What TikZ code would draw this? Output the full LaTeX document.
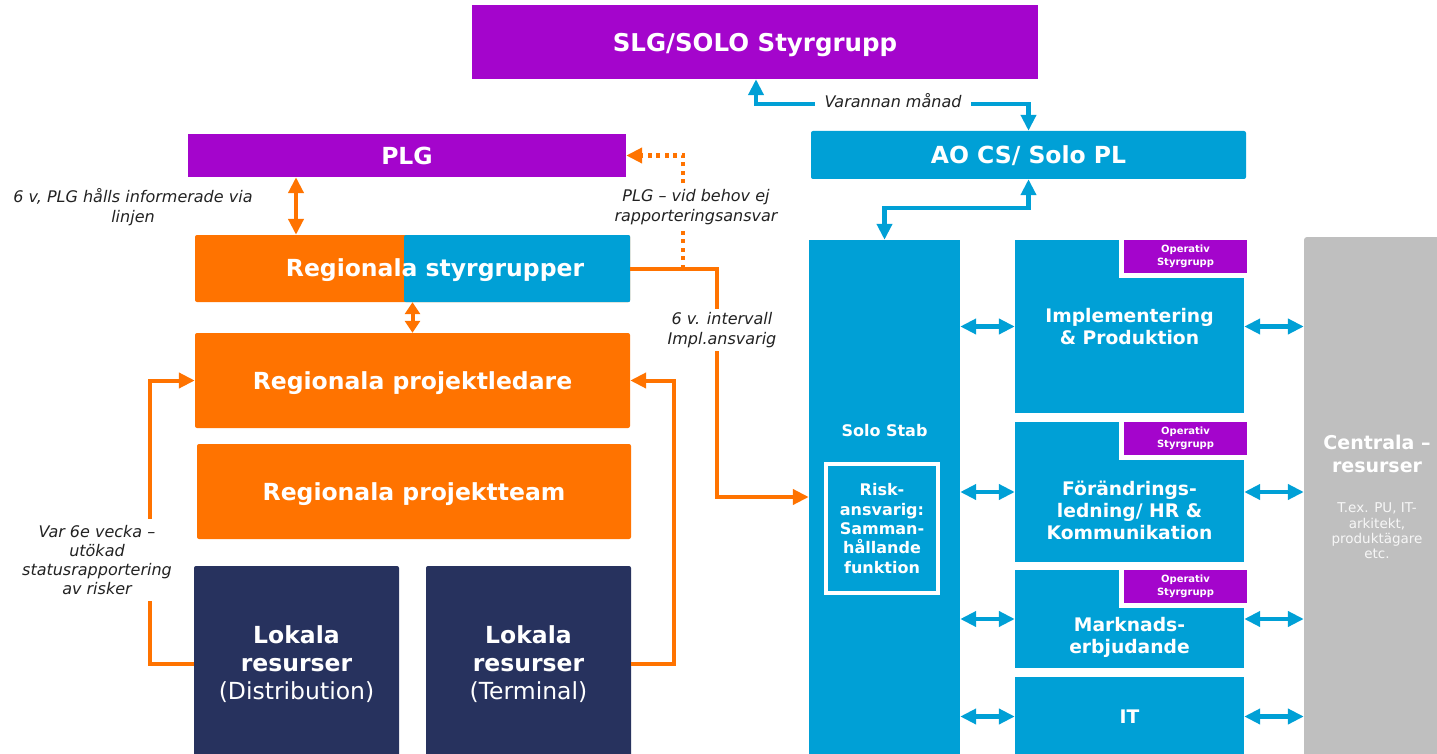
\documentclass[tikz,border=0pt]{standalone}
\usepackage{fontspec}
\setmainfont{DejaVu Sans}
\usetikzlibrary{arrows.meta}
\definecolor{solopurple}{HTML}{A405CC}
\definecolor{soloblue}{HTML}{00A0D6}
\definecolor{soloorange}{HTML}{FF7300}
\definecolor{solonavy}{HTML}{27325E}
\definecolor{sologray}{HTML}{BFBFBF}
\definecolor{notetext}{HTML}{222222}
\tikzset{
  box/.style={inner sep=0pt, text=white, align=center, font=\fontsize{23.5}{28}\selectfont\bfseries},
  onebox/.style={box, text depth=0pt},
  midtext/.style={text=white, align=center, inner sep=0pt, font=\fontsize{18.7}{22}\selectfont\bfseries},
  note/.style={text=notetext, align=center, inner sep=1pt, font=\fontsize{16}{20}\selectfont\itshape},
  opbox/.style={fill=solopurple, text=white, align=center, inner sep=0pt, minimum width=123pt, minimum height=33pt, font=\fontsize{10}{13}\selectfont\bfseries},
  bluedbl/.style={soloblue, line width=4.5pt, {Triangle[length=16pt,width=15pt]}-{Triangle[length=16pt,width=15pt]}},
  orangedbl/.style={soloorange, line width=4pt, {Triangle[length=16pt,width=15pt]}-{Triangle[length=16pt,width=15pt]}},
  orangearr/.style={soloorange, line width=4pt, -{Triangle[length=16pt,width=15pt]}},
  orangedot/.style={soloorange, line width=4.5pt, dash pattern=on 4pt off 4.5pt, -{Triangle[length=16pt,width=15pt]}},
}
\begin{document}
\begin{tikzpicture}[x=1pt,y=-1pt]
  \useasboundingbox (0,0) rectangle (1437,754);
  % top boxes
  \node[onebox, fill=solopurple, minimum width=566pt, minimum height=74pt, font=\fontsize{24.5}{28}\selectfont\bfseries] (slg) at (755,42) {SLG/SOLO Styrgrupp};
  \node[onebox, fill=solopurple, minimum width=438pt, minimum height=43pt] (plg) at (407,155.5) {PLG};
  \node[onebox, fill=soloblue, rounded corners=2pt, minimum width=435pt, minimum height=48pt] (aocs) at (1028.5,155) {AO CS/ Solo PL};
  % regional side
  \node[box, fill=soloorange, rounded corners=2pt, minimum width=435pt, minimum height=67pt] (regstyr) at (412.5,268.5) {};
  \fill[soloblue, rounded corners=2pt] (404,235) rectangle (regstyr.south east);
  \node[onebox] (regstyrtext) at (435,268) {Regionala styrgrupper};
  \node[onebox, fill=soloorange, rounded corners=2pt, minimum width=435pt, minimum height=95pt] (regpl) at (412.5,380.5) {Regionala projektledare};
  \node[onebox, fill=soloorange, rounded corners=2pt, minimum width=434pt, minimum height=95pt] (regteam) at (414,491.5) {Regionala projektteam};
  \node[box, fill=solonavy, rounded corners=2pt, minimum width=205pt, minimum height=196pt] (lokdist) at (296.5,664) {Lokala\\resurser\\{\mdseries(Distribution)}};
  \node[box, fill=solonavy, rounded corners=2pt, minimum width=205pt, minimum height=196pt] (lokterm) at (528.5,664) {Lokala\\resurser\\{\mdseries(Terminal)}};
  % solo side
  \node[fill=soloblue, inner sep=0pt, minimum width=151pt, minimum height=520pt] (stab) at (884.5,500) {};
  \node[midtext, font=\fontsize{16}{19}\selectfont\bfseries] (stabtext) at (884.5,431) {Solo Stab};
  \node[fill=soloblue, draw=white, line width=4pt, inner sep=0pt, minimum width=112pt, minimum height=129pt, text=white, align=center, font=\fontsize{16}{19.3}\selectfont\bfseries] (risk) at (882,528.5) {Risk-\\ansvarig:\\Samman-\\hållande\\funktion};
  \node[fill=soloblue, inner sep=0pt, minimum width=229pt, minimum height=173pt] (impl) at (1129.5,326.5) {};
  \node[fill=soloblue, inner sep=0pt, minimum width=229pt, minimum height=140pt] (forand) at (1129.5,492) {};
  \node[fill=soloblue, inner sep=0pt, minimum width=229pt, minimum height=98pt] (markn) at (1129.5,619) {};
  \node[fill=soloblue, inner sep=0pt, minimum width=229pt, minimum height=79pt] (it) at (1129.5,716.5) {};
  \foreach \b in {impl,forand,markn} {
    \fill[white] ([xshift=-125pt]\b.north east) rectangle ([xshift=3pt,yshift=-38pt]\b.north east);
    \node[opbox, anchor=north east] (\b op) at ([xshift=3pt]\b.north east) {Operativ\\Styrgrupp};
  }
  \node[midtext] (impltext) at (1129.5,327) {Implementering\\\& Produktion};
  \node[midtext] (forandtext) at (1129.5,510) {Förändrings-\\ledning/ HR \&\\Kommunikation};
  \node[midtext] (markntext) at (1129.5,637) {Marknads-\\erbjudande};
  \node[midtext] (ittext) at (1129.5,717) {IT};
  \node[fill=sologray, rounded corners=3pt, inner sep=0pt, minimum width=141pt, minimum height=525pt] (centrala) at (1374.5,499.5) {};
  \node[midtext, font=\fontsize{19}{23}\selectfont\bfseries] (centtext) at (1377,453.5) {Centrala –\\resurser};
  \node[text=white!88!sologray, align=center, inner sep=0pt, font=\fontsize{13.5}{15.3}\selectfont] (centsub) at (1377,531) {T.ex. PU, IT-\\arkitekt,\\produktägare\\etc.};
  % blue connectors
  \foreach \b in {impl,forand,markn,it} {
    \draw[bluedbl] (\b.west -| stab.east) -- (\b.west);
    \draw[bluedbl] (\b.east) -- (\b.east -| centrala.west);
  }
  \coordinate (vmid) at (0,104);
  \coordinate (smid) at (0,208);
  \draw[bluedbl] ([xshift=1pt]slg.south) |- (aocs.north |- vmid) -- (aocs.north);
  \draw[bluedbl] (aocs.south) |- (stab.north |- smid) -- (stab.north);
  \node[note, fill=white, inner xsep=10pt] (varannan) at (893,101) {Varannan månad};
  % orange connectors
  \coordinate (plgcol) at (296,0);
  \coordinate (dotA) at (683,268.5);
  \coordinate (implA) at (717,497);
  \coordinate (loopL) at (150,500);
  \coordinate (loopR) at (674,500);
  \draw[orangedbl] (plg.south -| plgcol) -- (regstyr.north -| plgcol);
  \draw[soloorange, line width=4pt, {Triangle[length=12pt,width=15pt]}-{Triangle[length=12pt,width=15pt]}] (regstyr.south) -- (regpl.north);
  \draw[orangedot] (dotA) |- (plg.east);
  \draw[orangearr] (regstyr.east) -| (implA) -- (implA -| stab.west);
  \draw[orangearr] (lokdist.west) -| (loopL) |- (regpl.west);
  \draw[orangearr] (lokterm.east) -| (loopR) |- (regpl.east);
  % notes
  \node[note] (plgnote) at (133,207) {6 v, PLG hålls informerade via\\linjen};
  \node[note, fill=white, inner ysep=2pt] (vidbehov) at (696,207) {PLG – vid behov ej\\rapporteringsansvar};
  \node[note, fill=white, inner ysep=3pt] (intervall) at (722,330) {6 v. intervall\\Impl.ansvarig};
  \node[note, fill=white, inner ysep=6pt, font=\fontsize{16}{19.3}\selectfont\itshape] (var6e) at (97,560) {Var 6e vecka –\\utökad\\statusrapportering\\av risker};
\end{tikzpicture}
\end{document}
